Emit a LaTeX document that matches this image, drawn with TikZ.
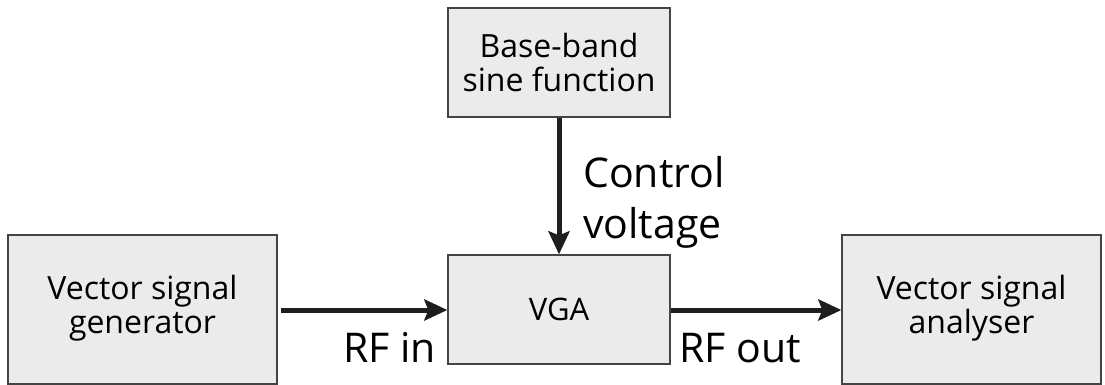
\documentclass[tikz,border=0pt]{standalone}
\usepackage{fontspec}
\setmainfont{Open Sans}
\usetikzlibrary{arrows.meta}
\definecolor{boxfill}{HTML}{EBEBEB}
\definecolor{boxline}{HTML}{444444}
\definecolor{arrowc}{HTML}{1E1E1E}
\begin{document}
\begin{tikzpicture}[x=1pt,y=-1pt,
  blk/.style={draw=boxline,line width=1.3pt,fill=boxfill,inner sep=0pt,align=center,
    font=\fontsize{32}{34}\selectfont},
  conn/.style={draw=arrowc,line width=5pt,-{Stealth[length=23pt,width=21pt,inset=4pt]}},
  lbl/.style={inner sep=0pt,font=\fontsize{41}{51}\selectfont,align=left}]
\useasboundingbox (0,0) rectangle (1105,385);
\node[blk,minimum width=222pt,minimum height=109pt] (base) at (559,62.5) {Base-band\\sine function};
\node[blk,minimum width=269pt,minimum height=149pt] (gen) at (142.5,309.5) {Vector signal\\generator\\[-24pt]};
\node[blk,minimum width=222pt,minimum height=109pt,font=\fontsize{31}{34}\selectfont] (vga) at (559,309.5) {VGA};
\node[blk,minimum width=259pt,minimum height=149pt] (ana) at (971.5,309.5) {Vector signal\\analyser\\[-24pt]};
\coordinate (genout) at (281,310);
\draw[conn] (base.south) -- (vga.north);
\draw[conn] (genout) -- (vga.west |- genout);
\draw[conn] (vga.east |- genout) -- (ana.west |- genout);
\node[lbl,anchor=base west] (ctl) at (583,238) {Control\\voltage};
\node[lbl,anchor=base east] (rfin) at (436,362) {RF in};
\node[lbl,anchor=base west] (rfout) at (679,362) {RF out};
\end{tikzpicture}
\end{document}
